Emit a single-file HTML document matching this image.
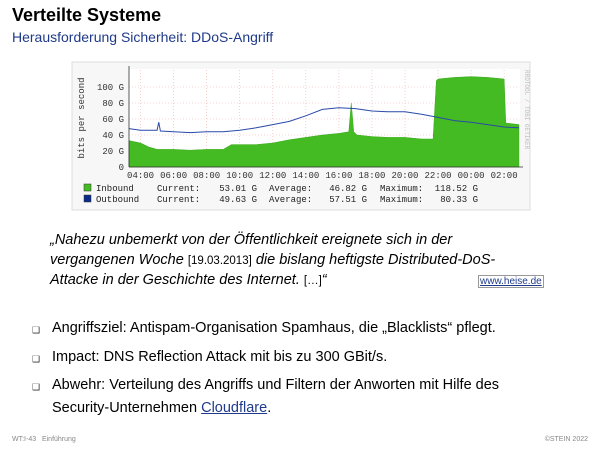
<!DOCTYPE html>
<html><head><meta charset="utf-8">
<style>
body{margin:0;width:600px;height:450px;background:#fff;position:relative;overflow:hidden;font-family:"Liberation Sans",sans-serif;}
.abs{position:absolute;white-space:nowrap;}
#title{left:12px;top:5px;font-size:18px;font-weight:bold;color:#000;}
#sub{left:12px;top:29px;font-size:14px;color:#1f3a8a;}
.q{left:50px;font-size:14.5px;font-style:italic;color:#000;}
.q span{font-style:normal;font-size:11.5px;}
.b{left:52px;font-size:14.5px;color:#000;}
.bm{left:32px;font-size:9px;color:#333;}
a{color:#1f3a8a;}
</style></head><body>
<div class="abs" id="title">Verteilte Systeme</div>
<div class="abs" id="sub">Herausforderung Sicherheit: DDoS-Angriff</div>

<svg id="chart" width="600" height="215" style="position:absolute;left:0;top:0" font-family="Liberation Mono, monospace">
<rect x="72" y="62" width="458" height="148" fill="#f7f7f7" stroke="#ddd"/>
<rect x="129" y="69" width="391" height="98" fill="#fff"/>
<g id="grid"></g><g id="marks"></g><g id="axes"></g>
<text x="84" y="118" font-size="9" fill="#333" text-anchor="middle" transform="rotate(-90 84 118)">bits per second</text>
<text x="525" y="70" font-size="6" fill="#bbb" transform="rotate(90 525 70)">RRDTOOL / TOBI OETIKER</text>
<g id="legend" font-size="9" fill="#222"></g>
</svg>

<div class="abs q" style="top:232px">„Nahezu unbemerkt von der Öffentlichkeit ereignete sich in der</div>
<div class="abs q" style="top:252px">vergangenen Woche <span>[19.03.2013]</span> die bislang heftigste Distributed-DoS-</div>
<div class="abs q" style="top:272px">Attacke in der Geschichte des Internet. <span>[…]</span>“</div>
<div class="abs" style="left:478px;top:275px;font-size:10px;border:1px solid #999;padding:0 1px"><a href="#" style="color:#1f3a8a">www.heise.de</a></div>

<div class="abs bm" style="top:325px">❑</div>
<div class="abs b" style="top:320px">Angriffsziel: Antispam-Organisation Spamhaus, die „Blacklists“ pflegt.</div>
<div class="abs bm" style="top:354px">❑</div>
<div class="abs b" style="top:349px">Impact: DNS Reflection Attack mit bis zu 300 GBit/s.</div>
<div class="abs bm" style="top:382px">❑</div>
<div class="abs b" style="top:377px">Abwehr: Verteilung des Angriffs und Filtern der Anworten mit Hilfe des</div>
<div class="abs b" style="top:400px">Security-Unternehmen <a href="#">Cloudflare</a>.</div>

<div class="abs" style="left:12px;top:436px;font-size:7px;color:#888">WT:I-43 &nbsp; Einführung</div>
<div class="abs" style="right:12px;top:436px;font-size:7px;color:#888">©STEIN 2022</div>

<script>
const hours=[3.3,4,4.5,5,6,7,8,9,9.5,10,11,12,13,14,15,16,16.6,16.75,16.9,17.1,18,19,20,21,21.7,21.9,22,23,24,25,26,26.1,26.9];
const inbound=[33,30,25,22,22,21,22,22,28,28,28,30,34,37,40,42,44,80,44,40,38,37,37,35,35,108,110,112,113,112,110,55,53];
const outHours=[3.3,4,5,5.1,5.2,6,7,8,9,10,11,12,13,14,15,16,17,18,19,20,21,22,23,24,25,26,26.9];
const outbound=[48,46,46,56,45,44,43,44,44,46,49,53,57,64,72,74,73,70,69,69,66,62,58,56,53,50,49];
const yTicks=[0,20,40,60,80,100];
const yTickLabels=["0","20 G","40 G","60 G","80 G","100 G"];
const xTicks=[4,6,8,10,12,14,16,18,20,22,24,26];
const xTickLabels=["04:00","06:00","08:00","10:00","12:00","14:00","16:00","18:00","20:00","22:00","00:00","02:00"];
const legendNames=["Inbound","Outbound"];
const legendCurrent=["53.01 G","49.63 G"];
const legendAverage=["46.82 G","57.51 G"];
const legendMaximum=["118.52 G","80.33 G"];
const legendColors=["#44bb22","#0a2a8a"];

const X0=129,X1=519,H0=3.3,H1=26.9,Y0=167,PXPERG=0.8;
function sx(h){return X0+(h-H0)/(H1-H0)*(X1-X0);}
function sy(v){return Y0-v*PXPERG;}
const NS="http://www.w3.org/2000/svg";
function mk(tag,parent,attrs){const e=document.createElementNS(NS,tag);for(const k in attrs)e.setAttribute(k,attrs[k]);parent.appendChild(e);return e;}
const grid=document.getElementById('grid'),marks=document.getElementById('marks'),axes=document.getElementById('axes'),legend=document.getElementById('legend');

yTicks.forEach((v,i)=>{
  const l=mk('line',grid,{x1:X0,x2:X1,y1:sy(v),y2:sy(v),stroke:'#f0b0b0','stroke-dasharray':'1,2','stroke-width':0.6});
  
  
  const t=mk('text',axes,{x:124,y:sy(v)+3,'font-size':9,'text-anchor':'end',fill:'#333'});
  t.textContent=yTickLabels[i];
  
  
});
xTicks.forEach((h,i)=>{
  const l=mk('line',grid,{x1:sx(h),x2:sx(h),y1:sy(0),y2:69,stroke:'#f0b0b0','stroke-dasharray':'1,2','stroke-width':0.6});
  
  
  const t=mk('text',axes,{x:sx(h),y:178,'font-size':9,'text-anchor':'middle',fill:'#333'});
  t.textContent=xTickLabels[i];
  
  
});
let d='M'+sx(hours[0])+','+sy(0);
hours.forEach((h,i)=>{d+=' L'+sx(h)+','+sy(inbound[i]);});
d+=' L'+sx(hours[hours.length-1])+','+sy(0)+' Z';
const area=mk('path',marks,{d:d,fill:'#44bb22',stroke:'#3aa81c','stroke-width':0.5});


const line=mk('polyline',marks,{points:outHours.map((h,i)=>sx(h)+','+sy(outbound[i])).join(' '),fill:'none',stroke:'#2a4aa8','stroke-width':1});


const xa=mk('line',axes,{x1:X0,x2:X1+4,y1:Y0,y2:Y0,stroke:'#333','stroke-width':0.8});


const ya=mk('line',axes,{x1:X0,x2:X0,y1:Y0,y2:66,stroke:'#333','stroke-width':0.8});



legendNames.forEach((n,i)=>{
  const y=191+i*11;
  const r=mk('rect',legend,{x:84,y:y-7,width:7,height:7,fill:legendColors[i],stroke:'#333','stroke-width':0.5});
  
  
  const cols=[[96,n,'start'],[157,'Current:','start'],[257,legendCurrent[i],'end'],[269,'Average:','start'],[367,legendAverage[i],'end'],[380,'Maximum:','start'],[478,legendMaximum[i],'end']];
  cols.forEach(c=>{
    const t=mk('text',legend,{x:c[0],y:y,'text-anchor':c[2]});
    t.textContent=c[1];
    
    
  });
});
</script>
</body></html>
